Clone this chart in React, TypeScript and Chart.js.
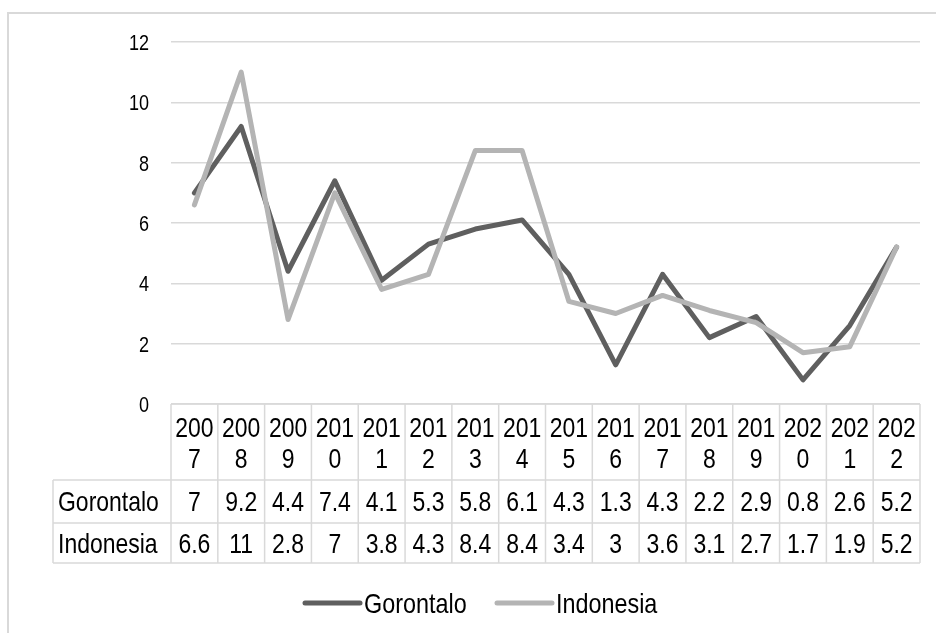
import React, { useEffect, useRef } from "react";
import { Chart, registerables } from "chart.js";

Chart.register(...registerables);

// Annual figures, 2007–2022
const years = ["2007", "2008", "2009", "2010", "2011", "2012", "2013", "2014", "2015", "2016", "2017", "2018", "2019", "2020", "2021", "2022"];
const gorontalo = [7, 9.2, 4.4, 7.4, 4.1, 5.3, 5.8, 6.1, 4.3, 1.3, 4.3, 2.2, 2.9, 0.8, 2.6, 5.2];
const indonesia = [6.6, 11, 2.8, 7, 3.8, 4.3, 8.4, 8.4, 3.4, 3, 3.6, 3.1, 2.7, 1.7, 1.9, 5.2];
const seriesNames = ["Gorontalo", "Indonesia"];
const seriesColors = ["#5f5f5f", "#b4b4b4"];
const yTicks = [0, 2, 4, 6, 8, 10, 12];

const FONT = "'Liberation Sans', Arial, sans-serif";
const NARROW = 0.82; // horizontal squeeze for a narrow sans face
const LINE_GRAY = "#d9d9d9";

function narrowText(
  ctx: CanvasRenderingContext2D,
  text: string,
  x: number,
  y: number,
  align: CanvasTextAlign,
  size: number
) {
  ctx.save();
  ctx.translate(x, y);
  ctx.scale(NARROW, 1);
  ctx.font = `${size}px ${FONT}`;
  ctx.textAlign = align;
  ctx.textBaseline = "alphabetic";
  ctx.fillStyle = "#000";
  ctx.fillText(text, 0, 0);
  ctx.restore();
}

// Frame, axis labels, data table under the plot, and legend
const tablePlugin = {
  id: "dataTable",
  afterDraw(chart: any) {
    const ctx = chart.ctx as CanvasRenderingContext2D;
    const x = chart.scales.x;
    const y = chart.scales.y;
    const area = chart.chartArea;
    const n = years.length;
    const band = x.width / n;
    const left = area.left;
    const right = area.right;
    const top = area.bottom;
    const headerBottom = 480;
    const row1Bottom = 523;
    const row2Bottom = 563;
    const labelLeft = 53;

    ctx.save();
    // outer frame
    ctx.strokeStyle = LINE_GRAY;
    ctx.lineWidth = 2;
    ctx.beginPath();
    ctx.moveTo(8, 633);
    ctx.lineTo(8, 13);
    ctx.lineTo(940, 13);
    ctx.stroke();

    // y-axis labels
    yTicks.forEach((v) => {
      narrowText(ctx, String(v), 149, y.getPixelForValue(v) + 8, "right", 22);
    });

    // table grid
    ctx.strokeStyle = LINE_GRAY;
    ctx.lineWidth = 1.5;
    ctx.beginPath();
    ctx.moveTo(left, top);
    ctx.lineTo(right, top);
    for (const yy of [headerBottom, row1Bottom, row2Bottom]) {
      ctx.moveTo(labelLeft, yy);
      ctx.lineTo(right, yy);
    }
    for (let i = 0; i <= n; i++) {
      const xx = left + i * band;
      ctx.moveTo(xx, top);
      ctx.lineTo(xx, row2Bottom);
    }
    ctx.moveTo(labelLeft, headerBottom);
    ctx.lineTo(labelLeft, row2Bottom);
    ctx.stroke();

    // table text
    years.forEach((yr, i) => {
      const cx = x.getPixelForValue(i);
      narrowText(ctx, yr.slice(0, 3), cx, 437, "center", 28);
      narrowText(ctx, yr.slice(3), cx, 468, "center", 28);
      narrowText(ctx, String(gorontalo[i]), cx, 511, "center", 28);
      narrowText(ctx, String(indonesia[i]), cx, 553, "center", 28);
    });
    narrowText(ctx, seriesNames[0], 58, 511, "left", 28);
    narrowText(ctx, seriesNames[1], 58, 553, "left", 28);

    // legend
    const legend = [
      { x0: 305, x1: 360, tx: 364 },
      { x0: 497, x1: 552, tx: 556 },
    ];
    legend.forEach((l, i) => {
      ctx.strokeStyle = seriesColors[i];
      ctx.lineWidth = 5;
      ctx.lineCap = "round";
      ctx.beginPath();
      ctx.moveTo(l.x0, 603);
      ctx.lineTo(l.x1, 603);
      ctx.stroke();
      narrowText(ctx, seriesNames[i], l.tx, 613, "left", 28.5);
    });
    ctx.restore();
  },
};

export default function App() {
  const ref = useRef<HTMLCanvasElement>(null);

  useEffect(() => {
    if (!ref.current) return;
    const chart = new Chart(ref.current, {
      type: "line",
      data: {
        labels: years,
        datasets: [
          {
            label: seriesNames[0],
            data: gorontalo,
            borderColor: seriesColors[0],
            backgroundColor: seriesColors[0],
            borderWidth: 5,
            pointRadius: 0,
            tension: 0,
            borderCapStyle: "round",
            borderJoinStyle: "round",
            order: 1,
          },
          {
            label: seriesNames[1],
            data: indonesia,
            borderColor: seriesColors[1],
            backgroundColor: seriesColors[1],
            borderWidth: 5,
            pointRadius: 0,
            tension: 0,
            borderCapStyle: "round",
            borderJoinStyle: "round",
            order: 0,
          },
        ],
      },
      options: {
        responsive: false,
        animation: false,
        layout: { padding: { left: 0, right: 16, top: 42, bottom: 230 } },
        plugins: { legend: { display: false }, tooltip: { enabled: false } },
        scales: {
          x: { display: false, offset: true },
          y: {
            min: 0,
            max: 12,
            afterFit: (s: any) => {
              s.width = 171;
            },
            border: { display: false },
            grid: { color: LINE_GRAY, lineWidth: 1.5, drawTicks: false },
            ticks: { stepSize: 2, display: false },
          },
        },
      },
      plugins: [tablePlugin],
    });
    return () => chart.destroy();
  }, []);

  return (
    <div style={{ position: "fixed", left: 0, top: 0, width: 936, height: 634, background: "#fff" }}>
      <canvas ref={ref} width={936} height={634} style={{ width: 936, height: 634, display: "block" }} />
    </div>
  );
}
